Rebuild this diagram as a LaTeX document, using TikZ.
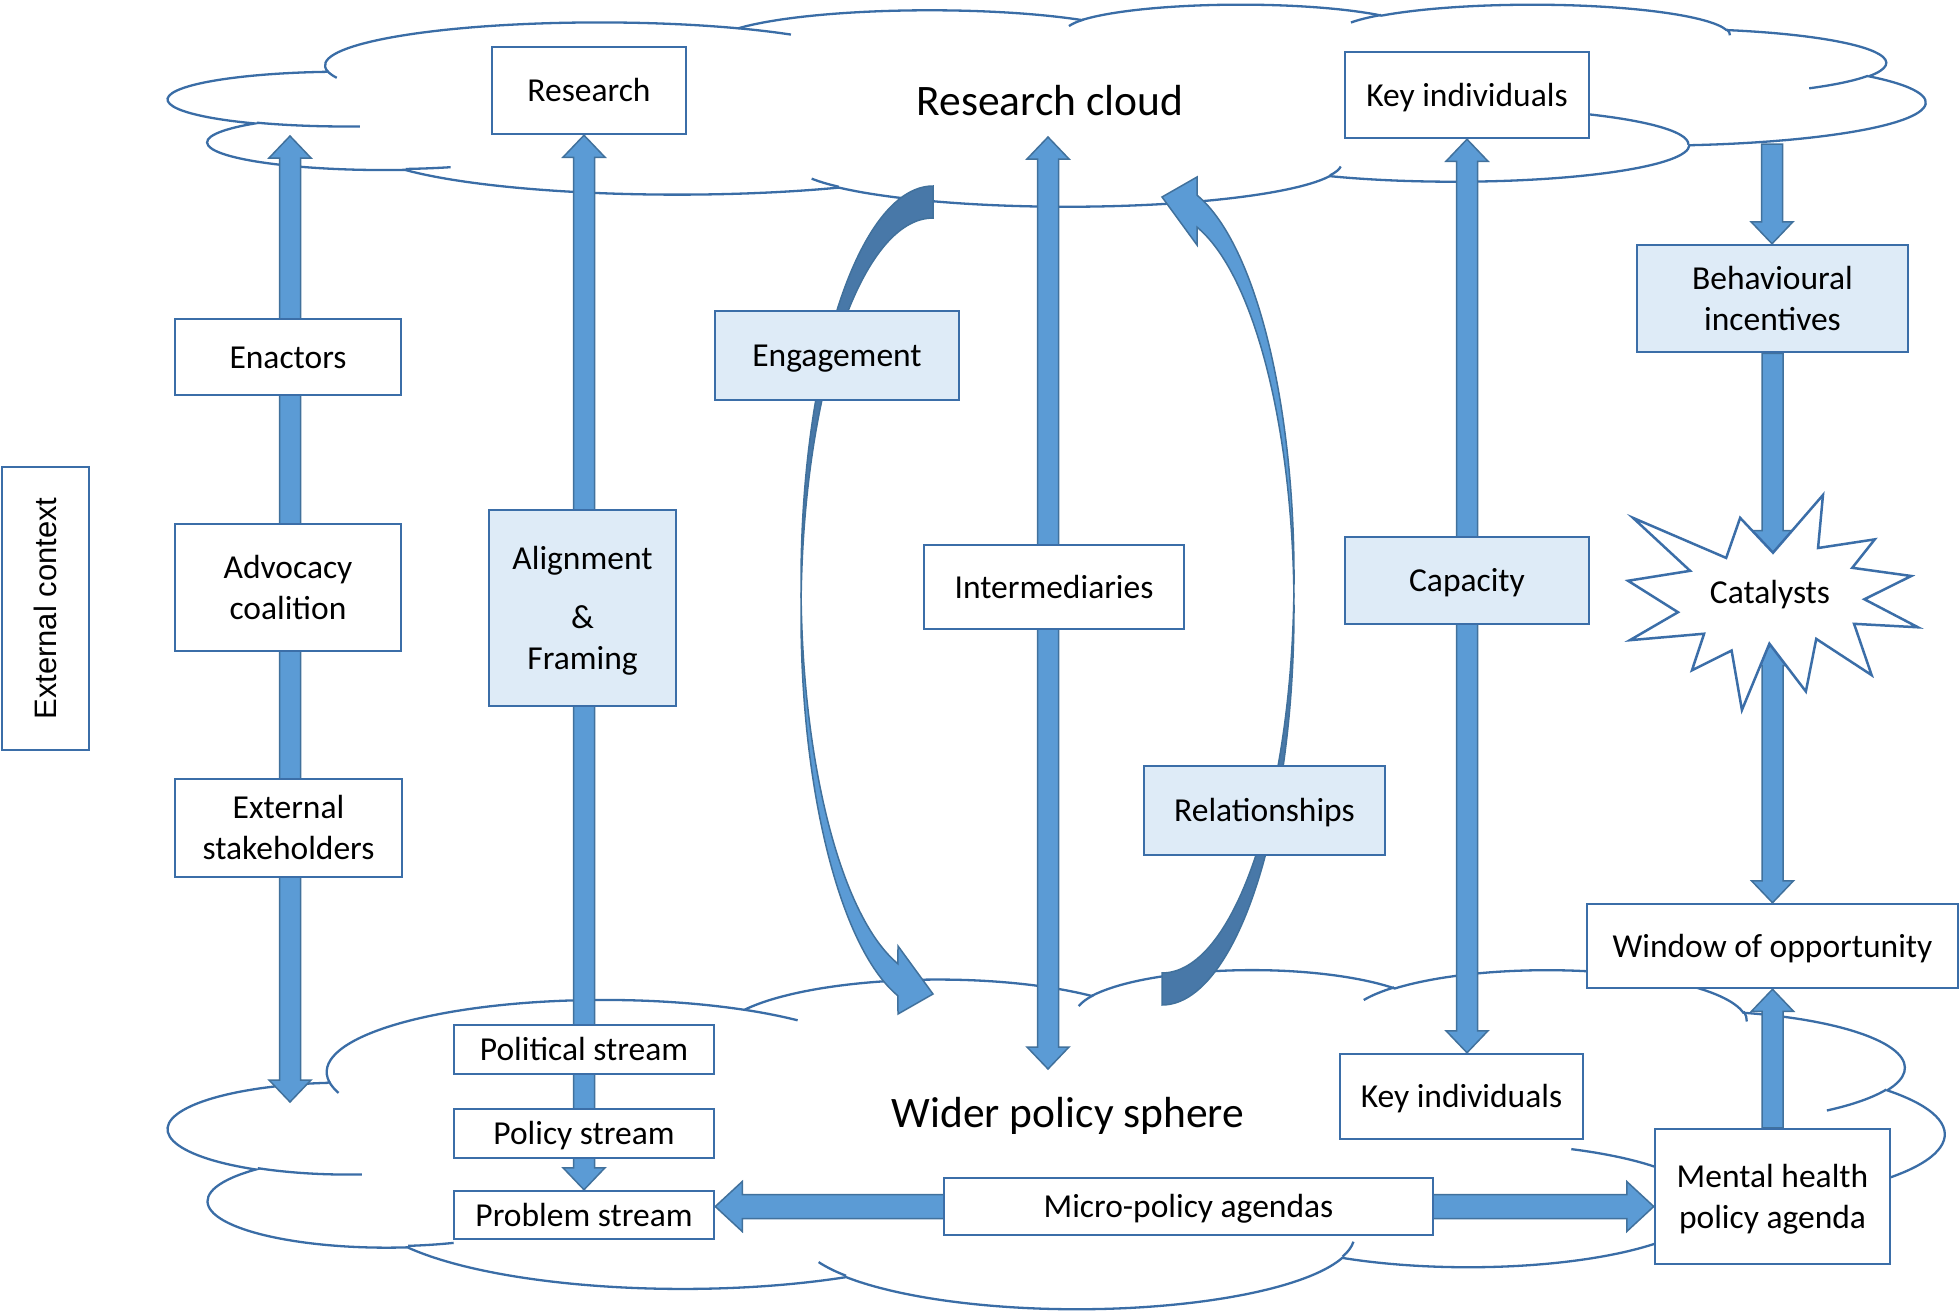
\documentclass[tikz,border=0pt]{standalone}
\usepackage{fontspec}
\setmainfont{Carlito}
\newfontfamily\arialf{Liberation Sans}
\usetikzlibrary{calc}
\pgfdeclarelayer{cloudlayer}
\pgfdeclarelayer{arrowlayer}
\pgfsetlayers{cloudlayer,arrowlayer,main}

\definecolor{boxline}{HTML}{3B6EA8}
\definecolor{lightfill}{HTML}{DEEBF7}
\definecolor{arrowfill}{HTML}{5B9BD5}
\definecolor{arrowline}{HTML}{41719C}
\definecolor{arrowdark}{HTML}{4878A8}
\definecolor{cloudline}{HTML}{3A6DA6}

\newcommand\nf{\fontsize{33.5}{41}\selectfont}
\newcommand\hf{\fontsize{43.5}{52}\selectfont}
\newcommand\Bst{\rule[-8.5pt]{0pt}{39.5pt}}

\tikzset{
  box/.style={draw=boxline, line width=2.5pt, fill=white, rectangle, inner sep=0pt, align=center, font=\nf, text=black},
  lbox/.style={box, fill=lightfill},
  blockarrow/.style={fill=arrowfill, draw=arrowline, line width=1.5pt, line join=miter},
  curvefront/.style={fill=arrowfill, draw=arrowline, line width=1.5pt, line join=miter},
  curveback/.style={fill=arrowdark, draw=arrowline, line width=1.5pt, line join=miter},
  cloudfill/.style={draw=cloudline, fill=white, line width=2.3pt},
  cloudedge/.style={draw=cloudline, line width=2.3pt},
  starshape/.style={draw=boxline, fill=white, line width=2.5pt, line join=miter},
  heading/.style={font=\hf, anchor=base, inner sep=0pt, text=black},
}

% Office-style cloud arc (visual angles -> parametric)
\newcommand\CloudArc[4]{%
 \pgfextra{%
  \pgfmathsetmacro\CAa{atan2(#1*sin(#3),#2*cos(#3))}%
  \pgfmathsetmacro\CAb{atan2(#1*sin(#3+#4),#2*cos(#3+#4))}%
  \pgfmathsetmacro\CAe{\CAa+mod(\CAb-\CAa+720,360)}%
  \xdef\CAA{\CAa}\xdef\CAE{\CAe}}%
 arc[start angle=\CAA, end angle=\CAE, x radius=#1, y radius=#2]}

\newcommand\DrawCloud{%
 \filldraw[cloudfill] (39.00,143.70)
  \CloudArc{67.53}{91.90}{-190.48748}{123.78053}
  \CloudArc{53.33}{72.67}{-144.10238}{89.94523}
  \CloudArc{43.65}{59.45}{-145.80792}{99.72302}
  \CloudArc{48.57}{65.95}{-130.98607}{117.24173}
  \CloudArc{53.33}{72.73}{-78.70888}{109.02692}
  \CloudArc{67.75}{92.20}{-46.26725}{130.269}
  \CloudArc{57.85}{78.67}{0.62502}{114.03333}
  \CloudArc{67.52}{92.15}{22.4516}{115.17255}
  \CloudArc{77.20}{105.43}{66.24263}{75.71102}
  \CloudArc{43.60}{59.18}{-274.94208}{146.73557}
  \CloudArc{43.45}{59.45}{-246.8285}{152.51885}
  -- cycle;
 \draw[cloudedge]
  (46.93,261.77) \CloudArc{43.45}{59.45}{86.742}{26.4295}
  (69.28,348.99) \CloudArc{43.60}{59.18}{73.61047}{11.44747}
  (164.78,390.90) \CloudArc{67.52}{92.15}{137.62415}{14.0811}
  (288.27,347.51) \CloudArc{67.52}{92.15}{6.45327}{15.99835}
  (341.29,229.54) \CloudArc{57.85}{78.67}{-70.29235}{70.91737}
  (417.98,153.54) \CloudArc{53.33}{72.73}{30.31803}{27.7515}
  (383.24,54.26) \CloudArc{48.57}{65.95}{-13.74433}{14.8589}
  (290.78,39.52) \CloudArc{48.57}{65.95}{-149.18145}{18.19588}
  (221.41,47.20) \CloudArc{43.65}{59.45}{-163.49427}{17.69835}
  (140.00,51.92) \CloudArc{67.53}{91.90}{-66.70695}{12.31935}
  (41.27,157.89) \CloudArc{67.53}{91.90}{157.65435}{11.85817};
}

% block arrows between named points
\newcommand\ArrDbl[2]{\filldraw[blockarrow] let \p1=(#1), \p2=(#2) in
 (\x1,\y1) -- (\x1+21pt,\y1-22pt) -- (\x1+10.5pt,\y1-22pt) -- (\x1+10.5pt,\y2+22pt) -- (\x1+21pt,\y2+22pt) -- (\x1,\y2)
 -- (\x1-21pt,\y2+22pt) -- (\x1-10.5pt,\y2+22pt) -- (\x1-10.5pt,\y1-22pt) -- (\x1-21pt,\y1-22pt) -- cycle;}
\newcommand\ArrDown[2]{\filldraw[blockarrow] let \p1=(#1), \p2=(#2) in
 (\x1-10.5pt,\y1) -- (\x1+10.5pt,\y1) -- (\x1+10.5pt,\y2+22pt) -- (\x1+21pt,\y2+22pt) -- (\x1,\y2)
 -- (\x1-21pt,\y2+22pt) -- (\x1-10.5pt,\y2+22pt) -- cycle;}
\newcommand\ArrUp[2]{\filldraw[blockarrow] let \p1=(#1), \p2=(#2) in
 (\x1,\y1) -- (\x1+21pt,\y1-22pt) -- (\x1+10.5pt,\y1-22pt) -- (\x1+10.5pt,\y2) -- (\x1-10.5pt,\y2)
 -- (\x1-10.5pt,\y1-22pt) -- (\x1-21pt,\y1-22pt) -- cycle;}
\newcommand\ArrH[2]{\filldraw[blockarrow] let \p1=(#1), \p2=(#2) in
 (\x1,\y1) -- (\x1+27pt,\y1+25pt) -- (\x1+27pt,\y1+12pt) -- (\x2-27pt,\y1+12pt) -- (\x2-27pt,\y1+25pt) -- (\x2,\y1)
 -- (\x2-27pt,\y1-25pt) -- (\x2-27pt,\y1-12pt) -- (\x1+27pt,\y1-12pt) -- (\x1+27pt,\y1-25pt) -- cycle;}

\begin{document}
\begin{tikzpicture}[x=1pt, y=-1pt]
\useasboundingbox (0,0) rectangle (1960,1314);

% clouds
\begin{pgfonlayer}{cloudlayer}
\begin{scope}[shift={(169,4)}, x=4.0648pt, y=-0.4676pt]
 \DrawCloud
\end{scope}
\begin{scope}[shift={(169,969)}, x=4.1088pt, y=-0.78472pt]
 \DrawCloud
\end{scope}
\end{pgfonlayer}

\node[heading] (rcloud) at (1050,115) {Research cloud};
\node[heading] (wider) at (1068,1127) {Wider policy sphere};

% boxes
\node[box, minimum width=194pt, minimum height=87pt] (research) at (589,90.5) {\Bst Research};
\node[box, minimum width=244pt, minimum height=86pt] (keytop) at (1467,95) {\Bst Key individuals};
\node[box, minimum width=226pt, minimum height=76pt] (enact) at (288,357) {\Bst Enactors};
\node[box, minimum width=226pt, minimum height=127pt] (advoc) at (288,587.5) {\Bst Advocacy\\\Bst coalition};
\node[box, minimum width=227pt, minimum height=98pt] (extst) at (288.5,828) {\Bst External\\\Bst stakeholders};
\node[box, rotate=90, minimum width=283pt, minimum height=87pt] (extctx) at (45.5,608.5) {\arialf\fontsize{31}{38}\selectfont\Bst External context};
\node[lbox, minimum width=187pt, minimum height=196pt] (align) at (582.5,608) {\Bst Alignment\\[18pt]\Bst \&\\\Bst Framing};
\node[lbox, minimum width=244pt, minimum height=89pt] (engage) at (837,355.5) {\Bst Engagement};
\node[box, minimum width=260pt, minimum height=84pt] (interm) at (1054,587) {\Bst Intermediaries};
\node[lbox, minimum width=241pt, minimum height=89pt] (relat) at (1264.5,810.5) {\Bst Relationships};
\node[lbox, minimum width=244pt, minimum height=87pt] (capac) at (1467,580.5) {\Bst Capacity};
\node[lbox, minimum width=271pt, minimum height=107pt] (behav) at (1772.5,298.5) {\Bst Behavioural\\\Bst incentives};
\node[box, minimum width=371pt, minimum height=84pt] (window) at (1772.5,946) {\Bst Window of opportunity};
\node[box, minimum width=243pt, minimum height=85pt] (keybot) at (1461.5,1096.5) {\Bst Key individuals};
\node[box, minimum width=235pt, minimum height=135pt] (mental) at (1772.5,1196.5) {\Bst Mental health\\\Bst policy agenda};
\node[box, minimum width=489pt, minimum height=57pt] (micro) at (1188.5,1206.5) {\Bst Micro-policy agendas};
\node[box, minimum width=260pt, minimum height=49pt] (polit) at (584,1049.5) {\Bst Political stream};
\node[box, minimum width=260pt, minimum height=49pt] (policy) at (584,1133.5) {\Bst Policy stream};
\node[box, minimum width=260pt, minimum height=48pt] (problem) at (584,1215) {\Bst Problem stream};

% catalysts star
\begin{scope}[shift={(1628,495)}, x=1.34259pt, y=-0.99537pt]
 \filldraw[starshape] (108,58) -- (145.22,0) -- (141.55,53.25) -- (183.80,44.57) -- (167.02,73.15)
  -- (210.97,81.37) -- (176.07,104.75) -- (216,132.90) -- (168.37,129.42) -- (181.45,180.95)
  -- (140.20,144.57) -- (132.47,197.37) -- (105.32,149.35) -- (84.85,216) -- (77.15,156.27)
  -- (47.62,176.17) -- (56.67,139.37) -- (1.35,145.87) -- (37.22,117.75) -- (0,86.15)
  -- (46.27,76.17) -- (3.70,22.95) -- (73.12,63.20) -- (83.52,22.95) -- cycle;
 \coordinate (cattop) at (108,58);
 \coordinate (catbot) at (105.32,149.35);
\end{scope}
\node[font=\nf, anchor=base, inner sep=0pt] (cattext) at (1770,603) {Catalysts};

% free arrow ends inside the clouds
\coordinate (lt) at (290,136);
\coordinate (lb) at (290,1102);
\coordinate (it) at (1048,137);
\coordinate (ib) at (1048,1069);
\coordinate (rc) at (1772,144);

\begin{pgfonlayer}{arrowlayer}
 \ArrDbl{lt}{lb}
 \ArrDbl{research.south -| polit.north}{problem.north}
 \ArrDbl{it}{ib}
 \ArrDbl{keytop.south}{keybot.north -| keytop.south}
 \ArrDown{rc}{behav.north}
 \ArrDown{behav.south}{behav.south |- cattop}
 \ArrDbl{window.north |- catbot}{window.north}
 \ArrUp{window.south}{mental.north}
 \ArrH{problem.east |- micro.center}{mental.west |- micro.center}
 % curved arrow: research cloud -> wider policy sphere (Engagement)
 \filldraw[curveback] (933,186) arc[start angle=270, end angle=177.68, x radius=132, y radius=396]
   arc[start angle=182.32, end angle=270, x radius=132, y radius=396] -- cycle;
 \filldraw[curvefront] (801.1,598.0) arc[start angle=182.32, end angle=105.4, x radius=132, y radius=396]
   -- (898,1014) -- (933,994) -- (898,946) -- (897.95,963.8)
   arc[start angle=105.4, end angle=177.68, x radius=132, y radius=396] -- cycle;
 % curved arrow: wider policy sphere -> research cloud (Relationships)
 \filldraw[curveback] (1162,1005) arc[start angle=90, end angle=-2.32, x radius=132, y radius=396]
   arc[start angle=2.32, end angle=90, x radius=132, y radius=396] -- cycle;
 \filldraw[curvefront] (1293.9,593.0) arc[start angle=2.32, end angle=-74.6, x radius=132, y radius=396]
   -- (1197,177) -- (1162,197) -- (1197,245) -- (1197.05,227.2)
   arc[start angle=-74.6, end angle=-2.32, x radius=132, y radius=396] -- cycle;
\end{pgfonlayer}
\end{tikzpicture}
\end{document}
